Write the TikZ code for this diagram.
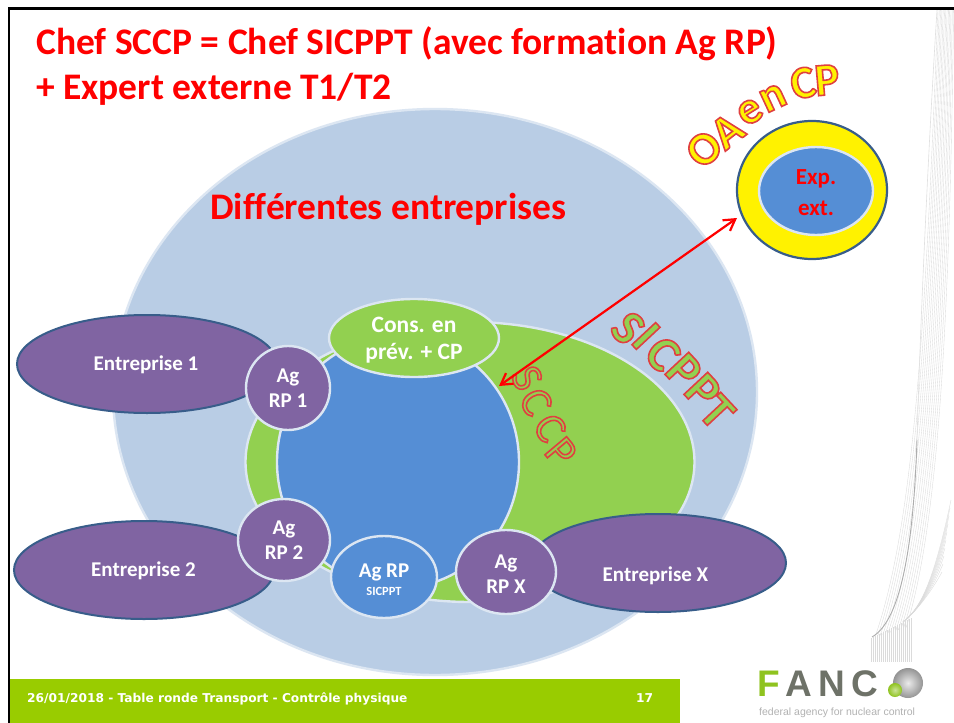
\documentclass[tikz,border=0pt]{standalone}
\usepackage{fontspec}
\setmainfont[Ligatures=NoCommon]{Carlito}
\newfontfamily\footfont{DejaVu Sans}
\newfontfamily\logofont{Liberation Sans}
\usetikzlibrary{arrows.meta,shapes.geometric,shadings}
\definecolor{bigblue}{HTML}{B9CDE5}
\definecolor{rim}{HTML}{DCE6F2}
\definecolor{leaf}{HTML}{92D050}
\definecolor{midblue}{HTML}{558ED5}
\definecolor{plum}{HTML}{8064A2}
\definecolor{navy}{HTML}{385D8A}
\definecolor{footgreen}{HTML}{99CC00}
\definecolor{logogray}{HTML}{6E7268}
\definecolor{logogreen}{HTML}{8FC31F}
\newcommand{\pxfont}[1]{\fontsize{#1}{#1}\selectfont}
\newcommand{\outlined}[1]{\special{pdf:code 2 Tr 1.6 w 0.88 0.25 0.25 RG}#1\special{pdf:code 0 Tr}}
\tikzset{
  x=1pt,y=-1pt,
  blob/.style={ellipse,inner sep=0pt,minimum width=#1},
  rimmed/.style={draw=rim,line width=2.4pt},
  firm/.style={draw=navy,line width=2pt,fill=plum},
  firmlabel/.style={text=white,font=\bfseries\pxfont{21},inner sep=0pt},
  agent/.style={rimmed,fill=plum,text=white,font=\bfseries\pxfont{21},align=center},
  titletext/.style={anchor=base west,text=red,font=\bfseries\pxfont{37.5},inner sep=0pt},
  greenletter/.style={text=leaf,font=\bfseries\pxfont{50},inner sep=0pt},
  yellowletter/.style={text=yellow,font=\bfseries\pxfont{46},inner sep=0pt},
  fan/.style={draw=black!14,line width=0.35pt},
  link/.style={draw=red,line width=2.2pt,{Straight Barb[length=11pt,width=13pt]}-{Straight Barb[length=11pt,width=13pt]}},
}
\begin{document}
\begin{tikzpicture}
\useasboundingbox (0,0) rectangle (954,723);
\fill[white] (0,0) rectangle (954,723);
% background fan
\begin{scope}
\clip (860,10) rectangle (954,662);
\foreach \i in {0,...,12}{
  \draw[fan] (938+1.3*\i,10) .. controls (926+2*\i,300) and (916+2*\i,520) .. (875+\i*2.6,637-\i*0.8);
}
\foreach \i in {0,...,9}{
  \draw[fan] (903,622) .. controls (918,610) and (932,590) .. ({942+\i},{572-8*\i});
}
\foreach \i in {0,...,20}{
  \draw[fan] (871+\i*2,{638-\i}) -- (871+\i*2,662);
}
\draw[black!32,line width=0.9pt] (872,637) .. controls (898,622) and (913,560) .. (917,440);
\draw[black!12,line width=0.6pt] (917,440) .. controls (921,300) and (930,120) .. (937,10);
\end{scope}
% frame
\fill[black] (8,7) rectangle (954,10);
\fill[black] (8,7) rectangle (10,723);
% title
\node[titletext] (t1) at (36,54) {Chef SCCP = Chef SICPPT (avec formation Ag RP)};
\node[titletext] (t2) at (36,99) {+ Expert externe T1/T2};
% nested shapes
\node[blob=644pt,minimum height=566pt,rimmed,fill=bigblue] (big) at (435,392) {};
\node[titletext] (diff) at (210,219) {Différentes entreprises};
\node[blob=449pt,minimum height=280pt,rimmed,fill=leaf] (sicppt) at (470,462) {};
\node[blob=242pt,minimum height=252pt,rimmed,fill=midblue] (sccp) at (398,462) {};
\node[blob=170pt,minimum height=78pt,rimmed,fill=leaf] (cons) at (414,338) {};
\node[text=white,font=\bfseries\pxfont{23.5},align=center,inner sep=0pt] (conslabel) at (414,340) {Cons. en\\[3.5pt]prév. + CP};
% companies
\node[blob=260pt,minimum height=98pt,firm] (e1) at (147,364) {};
\node[firmlabel] (e1label) at (146,365) {Entreprise 1};
\node[blob=260pt,minimum height=98pt,firm] (e2) at (144,570) {};
\node[firmlabel] (e2label) at (143.5,571) {Entreprise 2};
\node[blob=256pt,minimum height=98pt,firm] (ex) at (658,563) {};
\node[firmlabel] (exlabel) at (655.5,576) {Entreprise X};
% agents
\node[blob=84pt,minimum height=84pt,agent] (a1) at (288,388) {Ag\\[4pt]RP 1};
\node[blob=92pt,minimum height=82pt,agent] (a2) at (284,540) {Ag\\[4pt]RP 2};
\node[blob=106pt,minimum height=82pt,rimmed,fill=midblue] (asic) at (384,577) {};
\node[text=white,align=center,inner sep=0pt] (asiclabel) at (384,580) {{\bfseries\pxfont{21}Ag RP}\\[6pt]{\bfseries\pxfont{12.5}SICPPT}};
\node[blob=100pt,minimum height=84pt,rimmed,fill=plum] (ax) at (506,572) {};
\node[text=white,font=\bfseries\pxfont{21},align=center,inner sep=0pt] (axlabel) at (506,574) {Ag\\[4pt]RP X};
% expert
\node[blob=150pt,minimum height=138pt,draw=navy,line width=2.2pt,fill=yellow] (oa) at (812,190) {};
\node[blob=114pt,minimum height=88pt,rimmed,fill=midblue] (exp) at (816,191) {};
\node[text=red,font=\bfseries\pxfont{23},align=center,inner sep=0pt] (explabel) at (816,193) {Exp.\\[8pt]ext.};
% curved words
\foreach \c/\x/\y/\r [count=\n] in {S/628/328/-47,I/646/336/-47,C/663/354/-47,P/684/371/-47,P/703/391/-47,T/717/412/-47}
  \node[greenletter,rotate=\r] (si\n) at (\x,\y) {\outlined{\c}};
\foreach \c/\x/\y/\r [count=\n] in {S/527/378/-62,C/536/402/-62,C/550/428/-58,P/561/452/-50}
  \node[greenletter,font=\pxfont{44},rotate=\r] (sc\n) at (\x,\y) {\outlined{\c}};
\foreach \c/\x/\y/\r [count=\n] in {O/704/149/45,A/727/131/38,e/750/112/32,n/773/98/25,C/803/83/12,P/827/80/5}
  \node[yellowletter,rotate=\r] (oa\n) at (\x,\y) {\outlined{\c}};
% link
\coordinate (linka) at (737,218);
\coordinate (linkb) at (499,386);
\draw[link] (linkb) -- (linka);
% footer
\fill[footgreen] (10,679) rectangle (680,723);
\node[anchor=base west,inner sep=0pt,text=white,font=\footfont\bfseries\pxfont{12.2}] (foot) at (27,702) {26/01/2018 - Table ronde Transport - Contrôle physique};
\node[anchor=base west,inner sep=0pt,text=white,font=\footfont\bfseries\pxfont{12.2}] (page) at (636,702) {17};
% logo
\node[anchor=base west,inner sep=0pt,font=\logofont\bfseries\pxfont{37}] (fanc) at (757,696) {\textcolor{logogreen}{F}\,\textcolor{logogray}{A\,N\,C}};
\shade[inner color=black!8,outer color=black!42] (908,683) circle (15);
\shade[inner color=logogreen!45,outer color=logogreen] (895,690) circle (7);
\node[anchor=base west,inner sep=0pt,text=black!30,font=\logofont\pxfont{10.5}] (fed) at (759,715) {federal agency for nuclear control};
\end{tikzpicture}
\end{document}
